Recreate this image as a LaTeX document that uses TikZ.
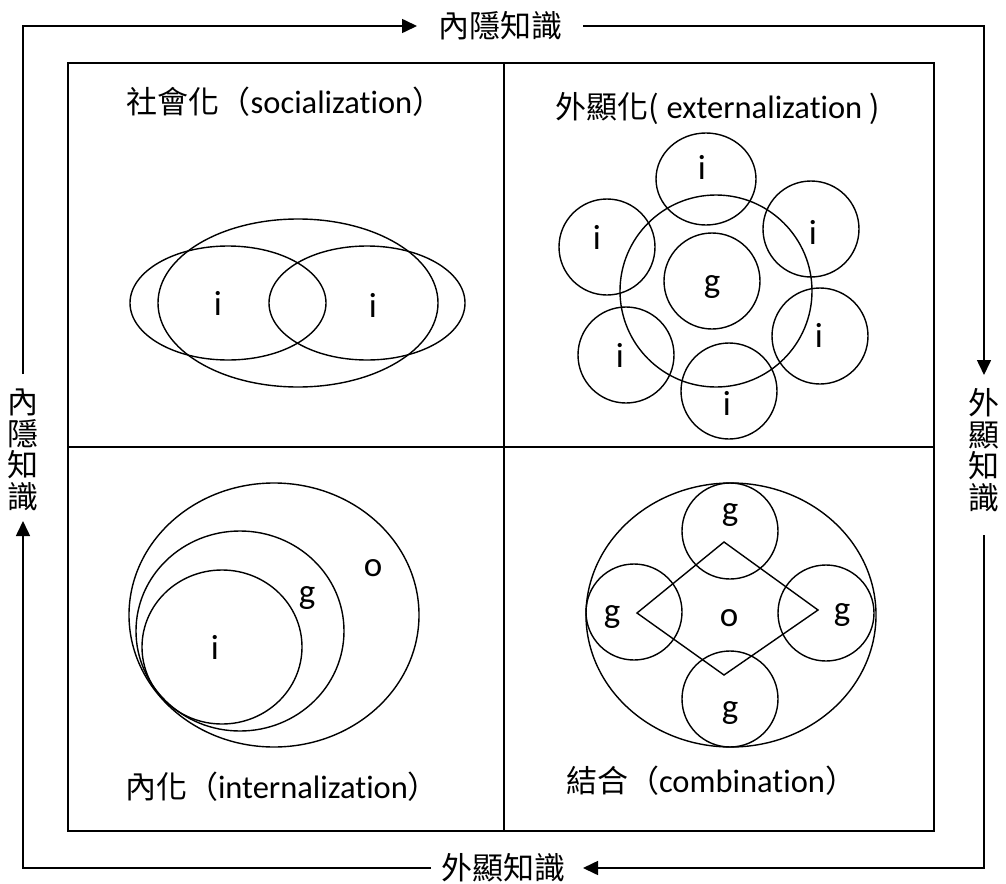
\documentclass[tikz,border=0pt]{standalone}
\usepackage{fontspec}
\setmainfont{Carlito}[Ligatures=NoCommon]
\newfontfamily\cjk{Noto Sans CJK TC}
\usetikzlibrary{arrows.meta}
\begin{document}
\begin{tikzpicture}[x=1pt,y=-1pt,
  frame/.style={line width=1.8pt},
  shp/.style={line width=1.4pt},
  arr/.style={line width=1.6pt,-{Triangle[length=15pt,width=14pt]}},
  lbl/.style={font=\fontsize{35}{40}\selectfont, inner sep=0pt},
  ttl/.style={font=\fontsize{32.5}{38}\selectfont, inner sep=0pt},
  cjkt/.style={font=\fontsize{31}{36}\selectfont\cjk, inner sep=0pt},
  vtxt/.style={font=\fontsize{31}{31.5}\selectfont\cjk, align=center, inner sep=0pt}]
\useasboundingbox (0,0) rectangle (1006,883);

% outer loop of arrows
\coordinate (TL) at (23,26);
\coordinate (TR) at (984,26);
\coordinate (BR) at (984,868);
\coordinate (BL) at (23,868);
\coordinate (tA) at (417,26);
\coordinate (tB) at (583,26);
\coordinate (rA) at (984,375);
\coordinate (rB) at (984,535);
\coordinate (bA) at (583,868);
\coordinate (bB) at (431,868);
\coordinate (lA) at (23,521);
\coordinate (lB) at (23,374);

\node[cjkt] (topT) at (500,26) {內隱知識};
\node[cjkt] (botT) at (503,868) {外顯知識};
\node[vtxt] (leftT) at (23,450) {內\\隱\\知\\識};
\node[vtxt] (rightT) at (984,450) {外\\顯\\知\\識};

\draw[arr] (lB) -- (TL) -- (tA);
\draw[arr] (tB) -- (TR) -- (rA);
\draw[arr] (rB) -- (BR) -- (bA);
\draw[arr] (bB) -- (BL) -- (lA);

% quadrant box
\coordinate (q1) at (68,63);
\coordinate (q2) at (934,831);
\draw[frame] (q1) rectangle (q2);
\draw[frame] (504,63) -- (504,831);
\draw[frame] (68,447) -- (934,447);

% titles
\node[ttl] (socT) at (285,102) {{\cjk\fontsize{31}{36}\selectfont 社會化（}socialization{\cjk\fontsize{31}{36}\selectfont ）}};
\node[ttl] (extT) at (718,109) {{\cjk\fontsize{31}{36}\selectfont 外顯化(} externalization {\cjk\fontsize{31}{36}\selectfont )}};
\node[ttl] (intT) at (282,787) {{\cjk\fontsize{31}{36}\selectfont 內化（}internalization{\cjk\fontsize{31}{36}\selectfont ）}};
\node[ttl] (comT) at (711,781) {{\cjk\fontsize{31}{36}\selectfont 結合（}combination{\cjk\fontsize{31}{36}\selectfont ）}};

% socialization
\draw[shp] (298,303) ellipse [x radius=140pt, y radius=84pt];
\draw[shp] (228,303) ellipse [x radius=98pt, y radius=57pt];
\draw[shp] (367,303) ellipse [x radius=98pt, y radius=57pt];
\node[lbl] (s1) at (218,303) {i};
\node[lbl] (s2) at (373,305) {i};

% externalization
\draw[shp] (716,291) circle [radius=96pt];
\draw[shp] (712,281) circle [radius=48pt];
\node[lbl] (eg) at (712,287) {g};
\draw[shp] (706,179) ellipse [x radius=50pt, y radius=46pt];
\draw[shp] (607,247) circle [radius=48pt];
\draw[shp] (811,229) circle [radius=48pt];
\draw[shp] (626,355) circle [radius=48pt];
\draw[shp] (820,336) circle [radius=48pt];
\draw[shp] (729,391) circle [radius=48pt];
\node[lbl] (e1) at (702,167) {i};
\node[lbl] (e2) at (597,237) {i};
\node[lbl] (e3) at (813,232) {i};
\node[lbl] (e4) at (620,355) {i};
\node[lbl] (e5) at (819,335) {i};
\node[lbl] (e6) at (727,403) {i};

% internalization
\draw[shp] (274,615) ellipse [x radius=145pt, y radius=132pt];
\draw[shp] (240,631) ellipse [x radius=104pt, y radius=100pt];
\draw[shp] (222,647) ellipse [x radius=80pt, y radius=77pt];
\node[lbl] (io) at (373,568) {o};
\node[lbl] (ig) at (307,598) {g};
\node[lbl] (ii) at (215,647) {i};

% combination
\draw[shp] (731,615) ellipse [x radius=145pt, y radius=132pt];
\draw[shp] (730,531) circle [radius=48pt];
\draw[shp] (634,612) circle [radius=48pt];
\draw[shp] (826,613) circle [radius=48pt];
\draw[shp] (730,699) circle [radius=48pt];
\coordinate (dT) at (724,542);
\coordinate (dR) at (818,610);
\coordinate (dB) at (724,675);
\coordinate (dL) at (637,613);
\draw[shp] (dT) -- (dR) -- (dB) -- (dL) -- cycle;
\node[lbl] (cg1) at (730,515) {g};
\node[lbl] (cg2) at (612,617) {g};
\node[lbl] (cg3) at (842,615) {g};
\node[lbl] (cg4) at (730,713) {g};
\node[lbl] (co) at (729,618) {o};
\end{tikzpicture}
\end{document}
